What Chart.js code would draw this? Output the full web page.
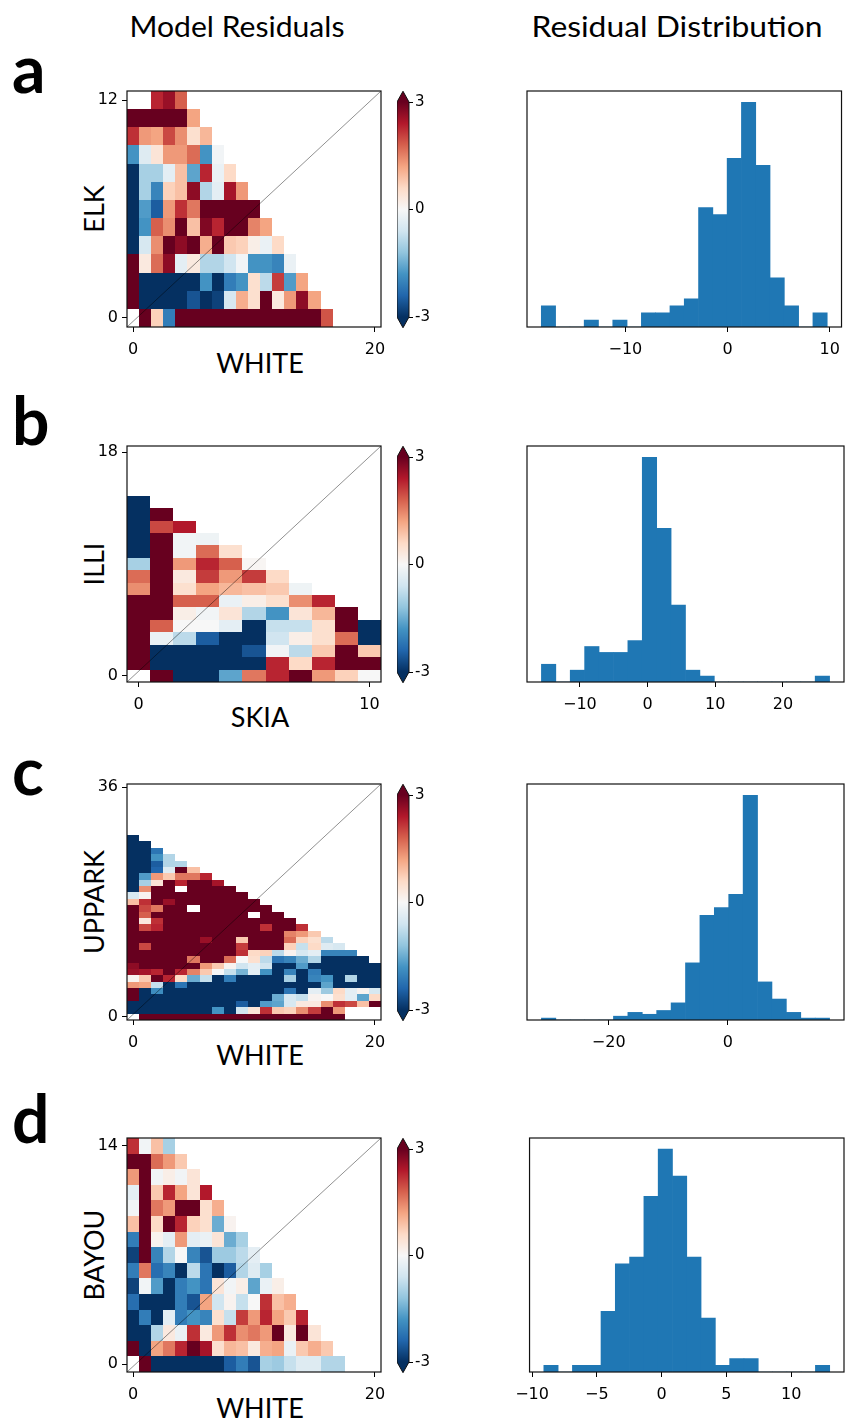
<!DOCTYPE html>
<html>
<head>
<meta charset="utf-8">
<title>Model Residuals</title>
<script src="https://cdn.jsdelivr.net/npm/chart.js@4.4.1/dist/chart.umd.min.js"></script>
<style>
  html, body { margin: 0; padding: 0; background: #fff; }
  body { width: 848px; height: 1426px; position: relative; overflow: hidden; }
  canvas { position: absolute; }
  svg.labels { position: absolute; left: 0; top: 0; pointer-events: none; }
  svg text { font-family: Lato, 'Open Sans', sans-serif; fill: #000; }
</style>
</head>
<body>
<svg class="labels" width="848" height="1426">
  <text x="237" y="37" text-anchor="middle" font-size="28" textLength="215" lengthAdjust="spacingAndGlyphs">Model Residuals</text>
  <text x="677" y="37" text-anchor="middle" font-size="28" textLength="291" lengthAdjust="spacingAndGlyphs">Residual Distribution</text>

  <text x="12" y="93" font-size="66" font-weight="bold">a</text>
  <text x="12" y="445" font-size="66" font-weight="bold">b</text>
  <text x="12" y="795" font-size="66" font-weight="bold">c</text>
  <text x="12" y="1143" font-size="66" font-weight="bold">d</text>

  <text x="260" y="373" text-anchor="middle" font-size="27">WHITE</text>
  <text x="260" y="727" text-anchor="middle" font-size="27">SKIA</text>
  <text x="260" y="1065" text-anchor="middle" font-size="27">WHITE</text>
  <text x="260" y="1418" text-anchor="middle" font-size="27">WHITE</text>

  <text transform="translate(104,209) rotate(-90)" text-anchor="middle" font-size="27">ELK</text>
  <text transform="translate(104,564) rotate(-90)" text-anchor="middle" font-size="27">ILLI</text>
  <text transform="translate(104,902) rotate(-90)" text-anchor="middle" font-size="27">UPPARK</text>
  <text transform="translate(104,1255) rotate(-90)" text-anchor="middle" font-size="27">BAYOU</text>
</svg>

<script>
const _ = null;

// ---- panel a: WHITE (x) vs ELK (y), rows listed top (y=12) to bottom (y=0)
const heatA = [
  [_, _, 2.3, 2.6, 1.8],
  [3, 3, 3, 3, 3, 1.2],
  [2.2, 1.3, 1.2, 2.0, 1.4, 0.5, 1.0],
  [-1.8, -0.4, 0.4, 1.3, 1.3, 1.7, -1.8, -0.1],
  [-3, -1.0, -1.0, -0.3, 0.9, -1.6, 2.3, -0.2, 0.6],
  [-3, -1.0, -2.0, 0.7, 0.9, 2.7, -0.9, -0.3, 2.5, 1.3],
  [-3, -1.7, -2.5, 1.3, 2.2, 1.6, 3, 3, 3, 3, 3],
  [-3, -1.8, 1.8, 1.4, 3, 0.9, 2.8, 2.3, 3, 3, 1.5, 1.2],
  [-3, -0.5, 1.4, 3, 2.7, 3, 1.1, 3, 0.8, 0.7, 0.2, -0.2, 0.6],
  [3, 0.3, 1.7, 2.7, -0.3, 0.3, -0.9, -0.9, -0.6, -0.1, -1.8, -1.8, -2.0, -0.2],
  [3, -3, -3, -3, -3, -3, -1.8, -3, -2.1, -1.8, 0.5, -0.8, 2.1, -1.7, 1.2],
  [3, -3, -3, -3, -3, -2.6, -3, -2.8, -0.5, 1.1, 0.5, 3, 0.3, 1.3, 2.7, 1.2],
  [_, 3, 0.7, -2.1, 3, 3, 3, 3, 3, 3, 3, 3, 3, 3, 3, 3, 1.9]
];
const heatTicksXA = [0, 20];
const heatTicksYA = [0, 12];
const histRangeA = [-18.23, 9.76];
const countsA = [3, 0, 0, 1, 0, 1, 0, 2, 2, 3, 4, 17, 16, 24, 32, 23, 7, 3, 0, 2];
const histTicksA = [-10, 0, 10];

// ---- panel b: SKIA (x) vs ILLI (y)
const heatB = [
  [], [], [], [],
  [-3],
  [-3, 3],
  [-3, 2.0, 2.4],
  [-3, 3, -0.1, -0.15],
  [-3, 3, -0.1, 1.7, 0.5],
  [-1.0, 3, 1.3, 2.3, 1.8, 0.05],
  [1.7, 3, 0.3, 2.1, 1.3, 2.1, 0.6],
  [1.4, 3, 0.5, 1.2, 1.0, 0.9, 0.8, -0.15],
  [3, 3, 1.8, 1.8, -0.2, 0.2, 0.5, 1.4, 2.3],
  [3, 3, 0.2, -0.1, 0.4, -0.9, -1.8, 0.4, 1.0, 3],
  [3, 1.8, 0.0, 0.0, -0.3, -3, -0.7, -0.7, 0.5, 3, -3],
  [3, -0.2, -0.8, -2.5, -3, -3, -0.6, 0.2, 0.5, 1.7, -3],
  [3, -3, -3, -3, -3, -2.6, -0.1, -0.8, 0.8, 3, 0.8],
  [3, -3, -3, -3, -3, -3, 2.3, 0.6, 2.3, 3, 3],
  [_, 3, -3, -3, -1.6, 1.6, 2.3, 3, 1.3, 0.7, 0.0]
];
const heatTicksXB = [0, 10];
const heatTicksYB = [0, 18];
const histRangeB = [-15.69, 26.9];
const countsB = [3, 0, 2, 6, 5, 5, 7, 38, 26, 13, 2, 1, 0, 0, 0, 0, 0, 0, 0, 1];
const histTicksB = [-10, 0, 10, 20];

// ---- panel c: WHITE (x) vs UPPARK (y)
const heatC = [
  [], [], [], [], [], [], [], [],
  [-3],
  [-3, -3],
  [-3, -3, -2.2],
  [-3, -3, -1.8, -0.9],
  [-3, -3, -2.5, -0.9, -0.9],
  [-3, -3, -2.4, -0.4, 3, 0.9],
  [-3, -1.7, 1.3, 0.8, 1.6, 1.6, 2.3],
  [-3, -1.0, 0.4, 3, 2.3, 3, 3, 2.5],
  [-3, 1.4, 3, 3, _, 3, 3, 3, 3],
  [-0.5, 0.1, 3, 3, 3, 3, 3, 3, 3, 3],
  [0.9, 2.2, 3, 2.6, 3, 3, 3, 3, 3, 3, 3],
  [3, 2.0, 1.6, 3, 3, _, 3, 3, 3, 3, 3, 3],
  [3, 1.8, 3, 3, 3, 3, 3, 3, 3, 3, _, 3, 3],
  [3, 0.3, 2.2, 3, 3, 3, 3, 3, 3, 3, 3, 3, 3, 3],
  [3, 2.0, 2.3, 3, 3, 3, 3, 3, 3, 3, 3, 2.2, 3, 3, 2.2],
  [3, 3, 3, 3, 3, 3, 3, 3, 3, 3, 3, 3, 3, 1.5, 1.3, 0.8],
  [3, 3, 3, 3, 3, 3, 2.6, 3, 3, 0.8, 3, 3, 3, 1.7, 0.7, 0.5, -0.8],
  [3, 2.0, 3, 3, 3, 3, 3, 3, 3, 2.1, 3, 3, 3, 0.7, -0.7, 0.6, -0.4, -0.5],
  [3, 3, 3, 3, 3, 3, 3, 3, 3, 2.2, 0.6, 0.7, -0.8, 0.1, -0.5, -0.3, -2.0, -2.0, -2.0],
  [3, 3, 3, 3, 3, 1.6, 3, 3, 1.7, 0.0, 0.5, -0.8, -2.2, -2.0, -1.5, -0.9, -3, -3, -3, -3],
  [2.7, 3, 3, 3, 3, 3, 1.3, 0.8, 0.1, -0.6, -0.3, -0.6, -3, -3, -1.7, -3, -3, -3, -3, -3, -3],
  [2.6, 2.5, 2.3, 3, 2.3, 1.5, 0.8, 0.0, -0.7, -1.4, -0.3, -1.8, -3, -2.0, -3, -2.1, -3, -3, -3, -3, -3],
  [0.1, 0.8, 3, 2.3, 0.6, -1.5, -0.7, -3, -2.1, -3, -3, -3, -3, -1.0, -3, -2.0, -1.8, -3, -0.9, -3, -3],
  [1.3, 1.2, -0.7, -3, -2.2, -3, -3, -3, -3, -3, -3, -3, -3, -3, -3, -3, -1.6, -3, -3, -3, -3],
  [3, -3, -1.9, -3, -3, -3, -3, -3, -3, -3, -3, -3, -3, -2.2, -3, -0.3, -1.1, 0.6, -0.3, 0.1, -0.5],
  [3, -3, -3, -3, -3, -3, -3, -3, -3, -3, -3, -3, -1.5, -0.5, -0.7, 0.1, 0.0, 0.5, -0.3, -1.6, 0.6],
  [-3, -3, -3, -3, -3, -3, -3, -3, -3, -2.5, -3, -1.7, -1.6, -0.5, 0.3, 0.3, 1.4, 2.2, 2.0, 0.9, 3],
  [-3, -3, -3, -3, -3, -3, -3, -1.8, -3, -0.6, 0.4, 2.2, 0.8, 0.7, 1.4, 2.1, 3, 1.3],
  [_, 3, 3, 3, 3, 3, 3, 3, 3, 3, 3, 3, 3, 3, 3, 3, 3, 3]
];
const heatTicksXC = [0, 20];
const heatTicksYC = [0, 36];
const histRangeC = [-31.3, 17.1];
const countsC = [1, 0, 0, 0, 0, 2, 4, 3, 5, 9, 30, 55, 59, 66, 118, 20, 11, 4, 1, 1];
const histTicksC = [-20, 0];

// ---- panel d: WHITE (x) vs BAYOU (y)
const heatD = [
  [2.2, -0.1, 0.9, -1.0],
  [3, 3, 1.7, 1.3, 0.8],
  [1.3, 3, -0.1, 0.2, -0.1, 0.4],
  [-0.3, 3, 0.8, 2.3, 1.2, 0.4, 2.4],
  [-0.1, 3, 1.6, 1.3, 3, 3, 0.5, 1.1],
  [0.9, 3, 0.6, 3, 2.3, 0.7, 0.5, -1.5, 0.1],
  [-2.1, 3, 0.1, -0.3, 1.3, -0.3, -0.2, 0.4, -1.5, -1.0],
  [-2.8, 3, -2.0, -0.9, 0.0, -2.0, -2.6, -1.1, -1.1, -0.8, -0.3],
  [-2.1, 1.6, -2.3, -2.0, -3, -0.8, -2.2, -3, -2.5, -0.9, -0.4, -1.0],
  [-2.8, -0.1, -1.7, -3, -2.1, -1.8, -2.2, 0.4, -0.1, 0.2, -1.6, -0.2, 0.2],
  [-2.3, -3, -3, -3, -2.1, -2.6, 1.2, -0.6, 0.1, -0.7, 0.0, 2.2, 0.9, 1.1],
  [-3, -2.1, -3, -0.3, -2.1, -1.8, -2.0, 0.5, -0.7, 2.1, 1.3, 2.3, 1.2, 0.8, 2.3],
  [-3, -3, -0.9, 0.3, -0.2, 2.2, 0.3, 1.3, 2.2, 1.4, 1.6, 1.3, 3, 0.3, 3, 0.4],
  [3, -3, 1.2, 1.6, 2.3, 3, 2.5, 0.5, 1.0, 0.9, 0.3, 1.1, 1.2, -0.2, 0.8, 1.1, 0.8],
  [_, 3, -3, -3, -3, -3, -3, -3, -2.5, -2.1, -2.6, -1.0, -1.1, -0.7, -0.4, -0.4, -0.9, -0.9]
];
const heatTicksXD = [0, 20];
const heatTicksYD = [0, 14];
const histRangeD = [-9.09, 12.97];
const countsD = [1, 0, 1, 1, 9, 16, 17, 26, 33, 29, 17, 8, 1, 2, 2, 0, 0, 0, 0, 1];
const histTicksD = [-10, -5, 0, 5, 10];

const colorbarTicks = [-3, 0, 3];

// RdBu_r, vmin -3 .. vmax 3
const RDBU = ['#053061', '#2166ac', '#4393c3', '#92c5de', '#d1e5f0', '#f7f7f7',
              '#fddbc7', '#f4a582', '#d6604d', '#b2182b', '#67001f'];
function hexRgb(h) {
  return [parseInt(h.slice(1, 3), 16), parseInt(h.slice(3, 5), 16), parseInt(h.slice(5, 7), 16)];
}
function rdbu(v) {
  let t = Math.max(0, Math.min(1, (v + 3) / 6)) * 10;
  const i = Math.min(9, Math.floor(t)), f = t - i;
  const a = hexRgb(RDBU[i]), b = hexRgb(RDBU[i + 1]);
  const c = a.map((av, k) => Math.round(av + (b[k] - av) * f));
  return `rgb(${c[0]},${c[1]},${c[2]})`;
}

const tickFont = { family: 'DejaVu Sans', size: 16 };
const tickGrid = { display: true, offset: false, drawOnChartArea: false, drawTicks: true, tickLength: 5, tickColor: '#000', tickWidth: 1 };
const minus = v => String(v).replace('-', '\u2212');

function makeCanvas(left, top, w, h) {
  const c = document.createElement('canvas');
  c.width = w; c.height = h;
  c.style.left = left + 'px'; c.style.top = top + 'px';
  c.style.width = w + 'px'; c.style.height = h + 'px';
  document.body.appendChild(c);
  return c;
}

const boxPlugin = {
  id: 'box',
  afterDatasetsDraw(chart) {
    const { left, top, width, height } = chart.chartArea;
    const ctx = chart.ctx;
    ctx.save();
    ctx.strokeStyle = '#111';
    ctx.lineWidth = 1.2;
    ctx.strokeRect(left, top, width, height);
    ctx.restore();
  }
};

function cellsPlugin(grid) {
  return {
    id: 'cells',
    beforeDatasetsDraw(chart) {
      const { x, y } = chart.scales;
      const ctx = chart.ctx;
      const ny = grid.length;
      grid.forEach((row, r) => {
        const yv = ny - 1 - r;
        row.forEach((v, c) => {
          if (v === null) return;
          const x0 = Math.round(x.getPixelForValue(c - 0.5));
          const x1 = Math.round(x.getPixelForValue(c + 0.5));
          const y0 = Math.round(y.getPixelForValue(yv + 0.5));
          const y1 = Math.round(y.getPixelForValue(yv - 0.5));
          ctx.fillStyle = rdbu(v);
          ctx.fillRect(x0, y0, x1 - x0, y1 - y0);
        });
      });
    }
  };
}

function heatmap(grid, xt, yt, boxTop, boxH) {
  const YW = 60, P = 15, XH = 40;
  const nx = xt[1] + 1, ny = yt[1] + 1;
  const cv = makeCanvas(127 - YW, boxTop - P, YW + 254 + P, P + boxH + XH);
  new Chart(cv, {
    type: 'scatter',
    data: {
      datasets: [{
        data: [{ x: -0.5, y: -0.5 }, { x: nx - 0.5, y: ny - 0.5 }],
        showLine: true, pointRadius: 0,
        borderColor: 'rgba(0,0,0,0.55)', borderWidth: 0.8
      }]
    },
    options: {
      responsive: false, animation: false, events: [],
      layout: { padding: { top: P, right: P, left: 0, bottom: 0 } },
      plugins: { legend: { display: false }, tooltip: { enabled: false } },
      scales: {
        x: {
          type: 'linear', min: -0.5, max: nx - 0.5,
          afterBuildTicks: s => { s.ticks = xt.map(v => ({ value: v })); },
          afterFit: s => { s.height = XH; },
          grid: tickGrid, border: { display: false },
          ticks: { font: tickFont, color: '#000', padding: 8, maxRotation: 0, autoSkip: false }
        },
        y: {
          type: 'linear', min: -0.5, max: ny - 0.5,
          afterBuildTicks: s => { s.ticks = yt.map(v => ({ value: v })); },
          afterFit: s => { s.width = YW; },
          grid: tickGrid, border: { display: false },
          ticks: { font: tickFont, color: '#000', padding: 4, autoSkip: false }
        }
      }
    },
    plugins: [cellsPlugin(grid), boxPlugin]
  });
}

const colorbarPlugin = {
  id: 'colorbar',
  beforeDatasetsDraw(chart) {
    const ctx = chart.ctx;
    const y = chart.scales.y;
    const { left, right } = chart.chartArea;
    const yTop = y.getPixelForValue(3), yBot = y.getPixelForValue(-3);
    const ext = 0.05 * (yBot - yTop), mid = (left + right) / 2;
    const g = ctx.createLinearGradient(0, yBot, 0, yTop);
    RDBU.forEach((c, i) => g.addColorStop(i / 10, c));
    ctx.save();
    ctx.fillStyle = g;
    ctx.fillRect(left, yTop, right - left, yBot - yTop);
    ctx.fillStyle = RDBU[10];
    ctx.beginPath(); ctx.moveTo(left, yTop); ctx.lineTo(mid, yTop - ext); ctx.lineTo(right, yTop); ctx.closePath(); ctx.fill();
    ctx.fillStyle = RDBU[0];
    ctx.beginPath(); ctx.moveTo(left, yBot); ctx.lineTo(mid, yBot + ext); ctx.lineTo(right, yBot); ctx.closePath(); ctx.fill();
    ctx.strokeStyle = '#111'; ctx.lineWidth = 1;
    ctx.beginPath();
    ctx.moveTo(left, yTop); ctx.lineTo(mid, yTop - ext); ctx.lineTo(right, yTop);
    ctx.lineTo(right, yBot); ctx.lineTo(mid, yBot + ext); ctx.lineTo(left, yBot); ctx.closePath();
    ctx.stroke();
    ctx.restore();
  }
};

function colorbar(boxTop, boxH) {
  const P = 15, W = 12, AW = 32;
  // extend triangles (5% each) fit inside the parent axes height
  const ext = boxH * 0.05 / 1.1;
  const rTop = boxTop + ext, rBot = boxTop + boxH - ext;
  const cv = makeCanvas(397, Math.round(rTop - P), W + AW, Math.round(rBot - rTop) + 2 * P);
  new Chart(cv, {
    type: 'scatter',
    data: { datasets: [] },
    options: {
      responsive: false, animation: false, events: [],
      layout: { padding: { top: P, bottom: P, left: 0, right: 0 } },
      plugins: { legend: { display: false }, tooltip: { enabled: false } },
      scales: {
        x: { display: false, min: 0, max: 1 },
        y: {
          position: 'right', min: -3, max: 3,
          afterBuildTicks: s => { s.ticks = colorbarTicks.map(v => ({ value: v })); },
          afterFit: s => { s.width = AW; },
          grid: { display: true, drawOnChartArea: false, drawTicks: true, tickLength: 4, tickColor: '#000' },
          border: { display: false },
          ticks: { font: { family: 'DejaVu Sans', size: 15 }, color: '#000', padding: 2, autoSkip: false }
        }
      }
    },
    plugins: [colorbarPlugin]
  });
}

function histogram(range, counts, ticks, boxTop, boxH) {
  const PL = 20, PR = 4, P = 15, XH = 40;
  const [lo, hi] = range;
  const w = (hi - lo) / counts.length;
  const margin = 0.05 * (hi - lo);
  const cv = makeCanvas(527 - PL, boxTop - P, PL + 317 + PR, P + boxH + XH);
  new Chart(cv, {
    type: 'bar',
    data: {
      datasets: [{
        data: counts.map((n, i) => ({ x: lo + (i + 0.5) * w, y: n })),
        backgroundColor: '#1f77b4', borderWidth: 0,
        barPercentage: 1, categoryPercentage: 1
      }]
    },
    options: {
      responsive: false, animation: false, events: [],
      layout: { padding: { top: P, right: PR, left: PL, bottom: 0 } },
      plugins: { legend: { display: false }, tooltip: { enabled: false } },
      scales: {
        x: {
          type: 'linear', offset: false, min: lo - margin, max: hi + margin,
          afterBuildTicks: s => { s.ticks = ticks.map(v => ({ value: v })); },
          afterFit: s => { s.height = XH; },
          grid: tickGrid, border: { display: false },
          ticks: { font: tickFont, color: '#000', padding: 8, maxRotation: 0, autoSkip: false, callback: v => minus(v) }
        },
        y: { display: false, min: 0, max: Math.max(...counts) * 1.05 }
      }
    },
    plugins: [boxPlugin]
  });
}

const panels = [
  { grid: heatA, xt: heatTicksXA, yt: heatTicksYA, range: histRangeA, counts: countsA, ht: histTicksA, top: 91, h: 236 },
  { grid: heatB, xt: heatTicksXB, yt: heatTicksYB, range: histRangeB, counts: countsB, ht: histTicksB, top: 446, h: 236 },
  { grid: heatC, xt: heatTicksXC, yt: heatTicksYC, range: histRangeC, counts: countsC, ht: histTicksC, top: 784, h: 236 },
  { grid: heatD, xt: heatTicksXD, yt: heatTicksYD, range: histRangeD, counts: countsD, ht: histTicksD, top: 1138, h: 234 }
];

panels.forEach(p => {
  heatmap(p.grid, p.xt, p.yt, p.top, p.h);
  colorbar(p.top, p.h);
  histogram(p.range, p.counts, p.ht, p.top, p.h);
});
</script>
</body>
</html>
